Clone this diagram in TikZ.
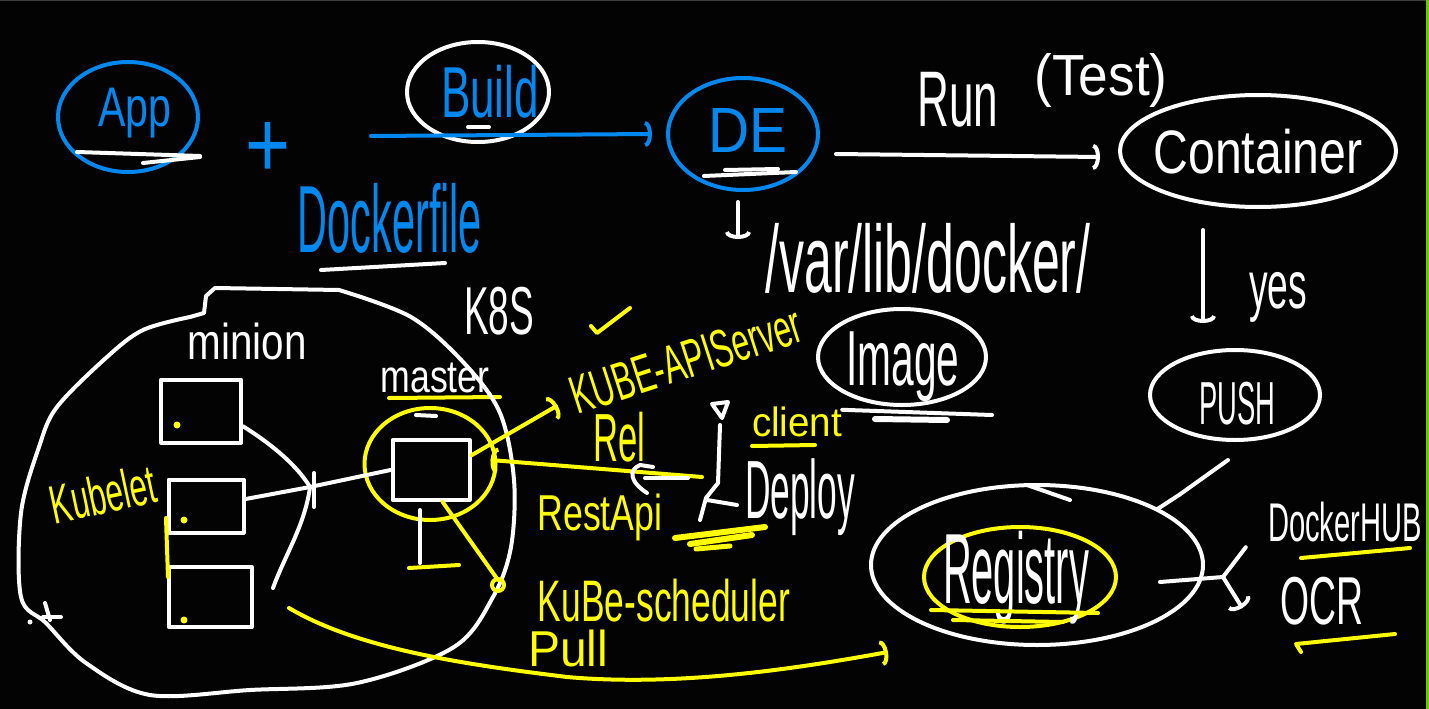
\documentclass[tikz,border=0pt]{standalone}
\usepackage{fontspec}
\setmainfont{Liberation Sans}
\usepackage{graphicx}
\usetikzlibrary{arrows.meta,shapes.geometric,positioning}

\definecolor{inkblue}{RGB}{0,136,238}
\definecolor{inkyellow}{RGB}{255,255,0}
\definecolor{boardgreen}{RGB}{110,200,0}
\definecolor{boardblack}{RGB}{3,3,3}

% width, height (px), text
\newcommand{\handtext}[3]{\resizebox*{#1pt}{#2pt}{#3}}

\tikzset{
  ink/.style={line width=4pt, line cap=round, line join=round},
  wtext/.style={text=white, inner sep=0pt},
  btext/.style={text=inkblue, inner sep=0pt},
  ytext/.style={text=inkyellow, inner sep=0pt},
  ring/.style={ellipse, draw=#1, ink, inner sep=0pt},
  podbox/.style={rectangle, draw=white, ink, inner sep=0pt},
  barbtip/.style={-{Arc Barb[length=7pt,width=26pt]}},
}

\begin{document}
\begin{tikzpicture}[x=1pt,y=-1pt]
\useasboundingbox (0,0) rectangle (1429,709);
\fill[boardblack] (0,0) rectangle (1429,709);
\fill[boardgreen] (1426,0) rectangle (1429,709);
\fill[black!75!white] (0,0) rectangle (1426,1.5);

% rings
\node[ring=inkblue, minimum width=140, minimum height=110] (appring) at (128,117) {};
\node[ring=white, minimum width=142, minimum height=100] (buildring) at (478,92) {};
\node[ring=inkblue, minimum width=150, minimum height=112] (dering) at (743,134) {};
\node[ring=white, minimum width=276, minimum height=112] (contring) at (1258,151) {};
\node[ring=white, minimum width=168, minimum height=96] (imgring) at (902,357) {};
\node[ring=white, minimum width=170, minimum height=90] (pushring) at (1235,395) {};
\node[ring=white, minimum width=332, minimum height=160] (regring) at (1037,565) {};
\node[ring=inkyellow, minimum width=192, minimum height=100] (regcore) at (1020,577) {};
\node[ring=inkyellow, minimum width=131, minimum height=112] (masterring) at (430,464) {};

% docker texts
\node[btext] (app) at (135,113) {\handtext{73}{50}{App}};
\node[btext] (plus) at (268,150) {\handtext{45}{55}{+}};
\node[btext] (build) at (490,92) {\handtext{98}{53}{Build}};
\node[btext] (dockerfile) at (390,218) {\handtext{184}{70}{Dockerfile}};
\node[btext] (de) at (748,130) {\handtext{79}{44}{DE}};
\node[wtext] (run) at (958,100) {\handtext{81}{55}{Run}};
\node[wtext] (test) at (1101,80) {\handtext{133}{54}{(Test)}};
\node[wtext] (container) at (1258,152) {\handtext{209}{45}{Container}};
\node[wtext] (varlib) at (928,258) {\handtext{325}{70}{/var/lib/docker/}};
\node[wtext] (yes) at (1278,297) {\handtext{58}{50}{yes}};
\node[wtext] (image) at (903,367) {\handtext{113}{70}{Image}};
\node[wtext] (push) at (1237,404) {\handtext{76}{43}{PUSH}};
\node[wtext] (registry) at (1016,578) {\handtext{146}{93}{Registry}};
\node[wtext] (dockerhub) at (1345,522) {\handtext{154}{40}{DockerHUB}};
\node[wtext] (ocr) at (1322,601) {\handtext{83}{48}{OCR}};

% k8s texts
\node[wtext] (k8s) at (499,311) {\handtext{70}{48}{K8S}};
\node[wtext] (minion) at (247,341) {\handtext{119}{37}{minion}};
\node[wtext] (mastertext) at (435,378) {\handtext{109}{30}{master}};
\node[ytext, rotate=12] (kubelet) at (103,494) {\handtext{107}{40}{Kubelet}};
\node[ytext, rotate=18] (apiserver) at (686,360) {\handtext{240}{38}{KUBE-APIServer}};
\node[ytext] (rel) at (619,437) {\handtext{52}{50}{Rel}};
\node[ytext] (restapi) at (600,517) {\handtext{125}{47}{RestApi}};
\node[ytext] (client) at (797,422) {\handtext{90}{30}{client}};
\node[wtext] (deploy) at (800,497) {\handtext{110}{77}{Deploy}};
\node[ytext] (scheduler) at (664,601) {\handtext{252}{43}{KuBe-scheduler}};
\node[ytext] (pull) at (568,648) {\handtext{80}{37}{Pull}};

% underlines and marks
\draw[ink,white] (77,152) -- (200,156);
\draw[ink,white] (143,163) -- (200,157);
\draw[ink,white] (468,127) -- (489,127);
\draw[ink,white] (321,270) -- (445,263);
\draw[ink,white] (704,176) -- (796,172);
\draw[ink,white] (725,170) -- (778,169);
\draw[ink,inkyellow] (389,398) -- (500,397);
\draw[ink,inkyellow] (752,446) -- (815,445);
\draw[ink,inkyellow] (1301,558) -- (1410,548);
\draw[ink,inkyellow] (1301,652) -- (1296,644) -- (1395,634);
\draw[ink,inkyellow] (931,610) -- (1098,613);
\draw[ink,inkyellow] (953,620) -- (1063,622);
\draw[ink,white] (1027,485) -- (1070,500);
\draw[ink,inkyellow] (591,326) -- (597,333) -- (630,308);

% docker flow
\coordinate (buildfrom) at (371,136);
\draw[ink,inkblue,barbtip] (buildfrom) -- ([xshift=-14pt]dering.west);
\draw[ink,white,barbtip] ([xshift=16pt,yshift=-20pt]dering.east) -- ([xshift=-18pt,yshift=-6pt]contring.west);
\draw[ink,white,barbtip] ([xshift=-5pt,yshift=-10pt]dering.south) -- ([xshift=-5pt,yshift=-47pt]dering.south);
\draw[ink,white,barbtip] ([xshift=-55pt,yshift=-21pt]contring.south) -- ([xshift=-32pt,yshift=25pt]pushring.north);
\draw[ink,white] ([xshift=-7pt,yshift=-18pt]pushring.south) -- ++(-49,35) -- (regring.25);
\coordinate (fork) at (1223,577);
\draw[ink,white] ([xshift=-45pt,yshift=-17pt]regring.east) -- (fork) -- ([xshift=-22pt,yshift=-5pt]dockerhub.south west);
\draw[ink,white,barbtip] (fork) -- ([xshift=-38pt,yshift=-7pt]ocr.west);
\draw[ink,white] ([yshift=-3pt]client.north east) -- ([xshift=90pt,yshift=-8pt]imgring.south);
\draw[white,line width=6pt,line cap=round] ([xshift=-27pt,yshift=-12pt]imgring.south) -- ++(72,1);

% cluster
\draw[ink,white] (190,317) -- (204,313) -- (206,296) -- (215,288) -- (339,290);
\draw[ink,white] plot[smooth,tension=0.55] coordinates {(339,290) (411,317) (464,363) (500,413) (514,480) (511,547) (493,597) (454,647) (357,683) (250,690) (150,695) (86,663) (46,623) (21,597) (21,513) (39,447) (57,407) (107,357) (143,330) (190,317)};
\draw[ink,white] (45,603) -- (50,620);
\draw[ink,white] (43,617) -- (61,617);
\fill[white] (30,622) circle[radius=2.5];

\node[podbox, minimum width=80, minimum height=63] (pod1) at (201,411) {};
\node[podbox, minimum width=75, minimum height=53] (pod2) at (206,506) {};
\node[podbox, minimum width=83, minimum height=60] (pod3) at (210,597) {};
\node[podbox, minimum width=77, minimum height=60] (masterbox) at (431,470) {};
\fill[inkyellow] (177,425) circle[radius=3.5];
\fill[inkyellow] (184,520) circle[radius=3.5];
\fill[inkyellow] (184,620) circle[radius=3.5];
\draw[ink,inkyellow] (166,518) -- (168,577);

\coordinate (hub) at (310,487);
\coordinate (tail) at (273,588);
\draw[ink,white] (pod1.-20) .. controls (265,440) and (295,462) .. (hub);
\draw[ink,white] (pod2.10) -- (hub);
\draw[ink,white] (hub) -- (masterbox.west);
\draw[ink,white] ([xshift=4pt,yshift=14pt]hub) -- ([xshift=4pt,yshift=-20pt]hub);
\draw[ink,white] (hub) .. controls (305,525) and (285,555) .. (tail);

\draw[ink,white] (416,415) -- (436,416);
\draw[ink,white] (420,510) -- (420,563);
\draw[ink,inkyellow] (409,568) -- (459,565);

% api server, client, scheduler
\draw[ink,inkyellow,barbtip] (masterbox.20) -- ([xshift=-20pt,yshift=10pt]apiserver.south west);
\coordinate (relfrom) at (702,477);
\draw[ink,inkyellow,barbtip] (relfrom) -- ([xshift=-7pt,yshift=4pt]masterring.east);
\coordinate (schedpin) at (498,580);
\draw[ink,inkyellow] (masterbox.-70) -- (schedpin);
\draw[ink,inkyellow] ([yshift=-5pt]schedpin) circle[radius=6];
\coordinate (pullfrom) at (289,608);
\coordinate (pullto) at (888,652);
\draw[ink,inkyellow,barbtip] (pullfrom) .. controls (360,650) and (470,665) .. (567,677) .. controls (680,687) and (800,668) .. (pullto);

% user figure
\draw[ink,white] (712,404) -- (728,402) -- (722,418) -- cycle;
\draw[ink,white] (720,425) -- (718,483) -- (706,498) -- (700,520);
\draw[ink,white] (707,500) -- (737,505);
\draw[ink,white] (653,467) -- (640,465) .. controls (628,470) and (630,482) .. (647,493);
\draw[ink,white] (645,478) -- (688,478);
\draw[inkyellow,line width=6pt,line cap=round] (675,538) -- (765,527);
\draw[inkyellow,line width=6pt,line cap=round] (690,544) -- (752,535);
\draw[inkyellow,line width=5pt,line cap=round] (696,549) -- (730,546);
\end{tikzpicture}
\end{document}
